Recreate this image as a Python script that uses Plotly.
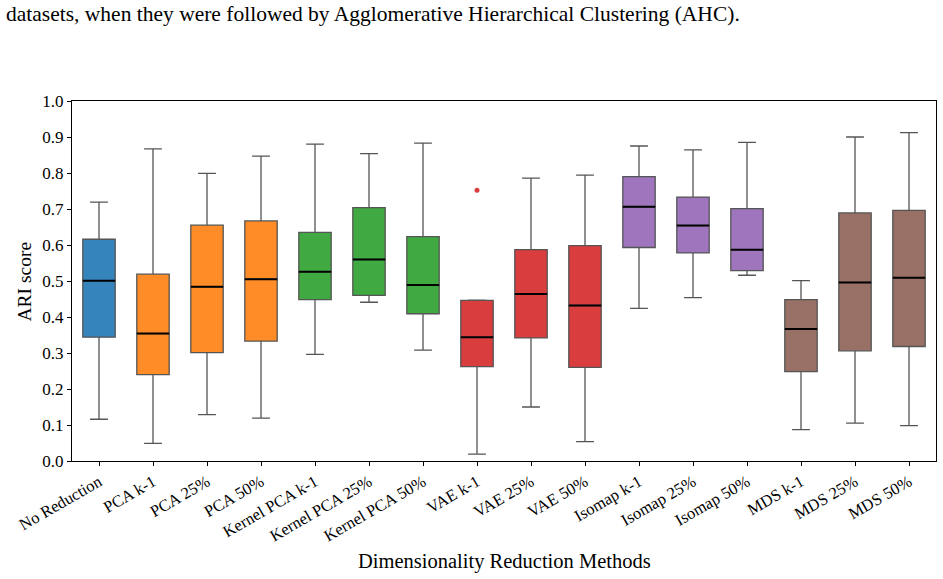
import plotly.graph_objects as go

methods = ["No Reduction", "PCA k-1", "PCA 25%", "PCA 50%", "Kernel PCA k-1",
           "Kernel PCA 25%", "Kernel PCA 50%", "VAE k-1", "VAE 25%", "VAE 50%",
           "Isomap k-1", "Isomap 25%", "Isomap 50%", "MDS k-1", "MDS 25%", "MDS 50%"]
lower = [0.116, 0.049, 0.129, 0.119, 0.296, 0.441, 0.308, 0.019, 0.150, 0.054,
         0.424, 0.454, 0.516, 0.087, 0.105, 0.098]
q1 = [0.344, 0.240, 0.301, 0.333, 0.448, 0.460, 0.409, 0.262, 0.342, 0.260,
      0.593, 0.578, 0.529, 0.248, 0.306, 0.318]
median = [0.501, 0.354, 0.484, 0.505, 0.526, 0.560, 0.489, 0.344, 0.464, 0.432,
          0.706, 0.654, 0.587, 0.367, 0.496, 0.509]
q3 = [0.616, 0.519, 0.655, 0.667, 0.635, 0.704, 0.623, 0.446, 0.587, 0.598,
      0.790, 0.733, 0.701, 0.448, 0.689, 0.696]
upper = [0.719, 0.867, 0.799, 0.847, 0.880, 0.854, 0.883, 0.447, 0.786, 0.794,
         0.875, 0.864, 0.885, 0.501, 0.900, 0.912]
outlier_method = ["VAE k-1"]
outlier_value = [0.752]

family_colors = {"No": "#3585bc", "PCA": "#ff8c26", "Kernel": "#41a941",
                 "VAE": "#da3d3e", "Isomap": "#9f76be", "MDS": "#987065"}

BOX_W = 0.6
serif = "Liberation Serif, Times New Roman, serif"

fig = go.Figure()
med_x, med_y = [], []
for i, m in enumerate(methods):
    col = family_colors[m.split()[0]]
    fig.add_trace(go.Box(
        x=[i], q1=[q1[i]], median=[median[i]], q3=[q3[i]],
        lowerfence=[lower[i]], upperfence=[upper[i]],
        width=BOX_W, whiskerwidth=0.55, fillcolor=col,
        line=dict(color="#555555", width=1.3), boxpoints=False,
        showlegend=False, hoverinfo="skip"))
    med_x += [i - BOX_W / 2, i + BOX_W / 2, None]
    med_y += [median[i], median[i], None]

fig.add_trace(go.Scatter(x=med_x, y=med_y, mode="lines",
                         line=dict(color="black", width=2),
                         showlegend=False, hoverinfo="skip"))
fig.add_trace(go.Scatter(x=[methods.index(m) for m in outlier_method], y=outlier_value,
                         mode="markers", marker=dict(color="#da3d3e", size=5),
                         showlegend=False, hoverinfo="skip"))

fig.add_annotation(text="datasets, when they were followed by Agglomerative Hierarchical Clustering (AHC).",
                   xref="paper", yref="paper", x=-0.079, y=1.242, xanchor="left", yanchor="middle",
                   showarrow=False, font=dict(family=serif, size=21.5, color="black"))
fig.add_annotation(text="Dimensionality Reduction Methods",
                   xref="paper", yref="paper", x=0.5, y=-0.278, xanchor="center", yanchor="middle",
                   showarrow=False, font=dict(family=serif, size=20.5, color="black"))
fig.add_annotation(text="ARI score", textangle=-90,
                   xref="paper", yref="paper", x=-0.055, y=0.5, xanchor="center", yanchor="middle",
                   showarrow=False, font=dict(family=serif, size=19.5, color="black"))

fig.update_layout(
    width=943, height=579, plot_bgcolor="white", paper_bgcolor="white",
    margin=dict(l=72, r=7, t=101, b=118),
    font=dict(family=serif, size=17, color="black"),
    xaxis=dict(range=[-0.5, 15.5], tickmode="array", tickvals=list(range(len(methods))),
               ticktext=methods, tickangle=-30, showline=True, linecolor="black", linewidth=1,
               mirror=True, ticks="outside", ticklen=4, tickcolor="black", showgrid=False,
               zeroline=False, tickfont=dict(family=serif, size=16.5), automargin=False),
    yaxis=dict(range=[0, 1.0], tickmode="array", tickvals=[i / 10 for i in range(11)],
               ticktext=[f"{i/10:.1f}" for i in range(11)], showline=True, linecolor="black",
               linewidth=1, mirror=True, ticks="outside", ticklen=4, tickcolor="black",
               showgrid=False, zeroline=False, tickfont=dict(family=serif, size=17),
               automargin=False),
)

fig.write_html("out.html")
